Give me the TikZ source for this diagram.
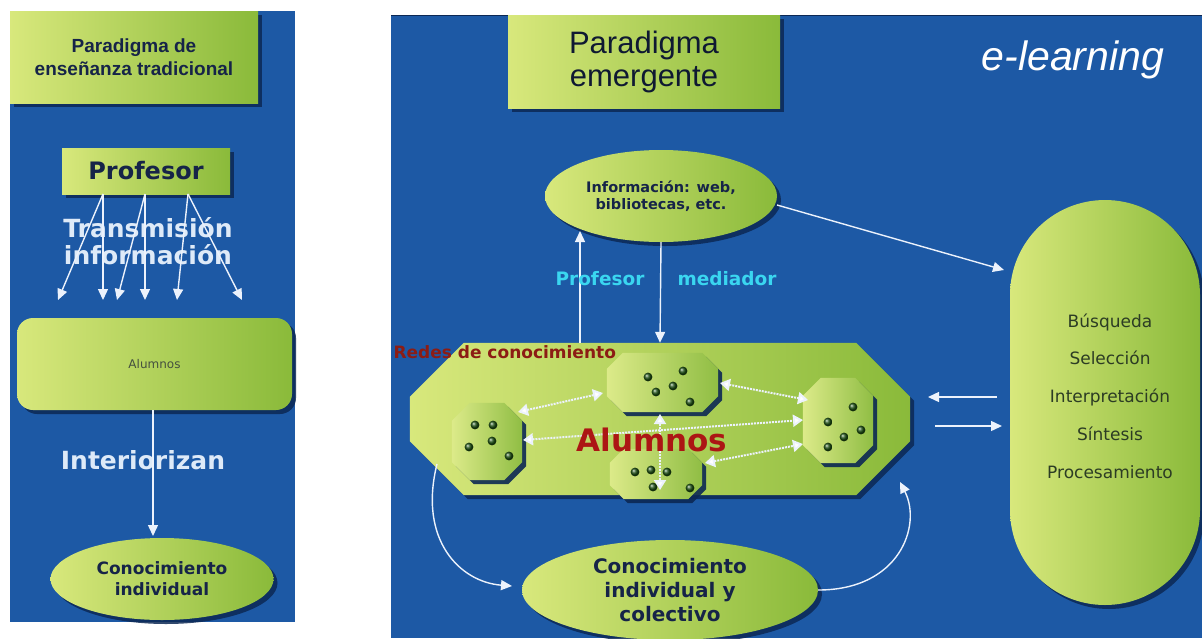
\documentclass[tikz,border=0pt]{standalone}
\usepackage{fontspec}
\setmainfont{DejaVu Sans}
\newfontfamily\arialf{Liberation Sans}
\usetikzlibrary{arrows.meta,shadows,shapes.geometric}

\definecolor{bgblue}{RGB}{29,89,165}
\definecolor{gL}{RGB}{216,232,124}
\definecolor{gD}{RGB}{138,186,58}
\definecolor{gS}{RGB}{12,40,84}
\definecolor{navy}{RGB}{22,36,72}
\definecolor{lightw}{RGB}{222,234,248}
\definecolor{arrw}{RGB}{236,242,252}
\definecolor{cyanl}{RGB}{58,214,240}
\definecolor{darkred}{RGB}{172,22,20}
\definecolor{redes}{RGB}{140,28,20}
\definecolor{dotg}{RGB}{30,80,20}
\definecolor{capt}{RGB}{44,60,36}

\newcommand\fsz[2]{\fontsize{#1}{#2}\selectfont}

% chamfered (octagonal) panel around a named node
\newcommand\chamferbox[7]{%
  \node[inner sep=0pt, minimum width=#4, minimum height=#5] (#1) at (#2,#3) {};
  \path[#7] ([xshift=#6]#1.north west) -- ([xshift=-#6]#1.north east)
    -- ([yshift=-#6]#1.north east) -- ([yshift=#6]#1.south east)
    -- ([xshift=-#6]#1.south east) -- ([xshift=#6]#1.south west)
    -- ([yshift=#6]#1.south west) -- ([yshift=-#6]#1.north west) -- cycle;
}

\begin{document}
\begin{tikzpicture}[x=1pt,y=-1pt,
  gfill/.style={left color=gL, right color=gD},
  shad/.style={drop shadow={shadow xshift=4pt, shadow yshift=-4pt, fill=gS, opacity=0.85}},
  gbox/.style={gfill, shad, inner sep=0pt},
  warrow/.style={draw=arrw, line width=1.4pt, -{Triangle[width=10pt,length=11pt]}},
  darrow/.style={draw=arrw, densely dotted, line width=2pt,
    {Triangle[width=12pt,length=10pt,fill=white]}-{Triangle[width=12pt,length=10pt,fill=white]}},
  subfill/.style={left color=gL!90!white, right color=gD!95!white,
    drop shadow={shadow xshift=4pt, shadow yshift=-4pt, fill=gS, opacity=0.9}},
  dot/.style={ball color=dotg},
]
\useasboundingbox (0,0) rectangle (1202,638);
\fill[white] (0,0) rectangle (1202,638);

% ---------------- left panel: traditional paradigm ----------------
\fill[bgblue] (10,11) rectangle (295,622);

\node[gbox, minimum width=248pt, minimum height=92pt, align=center,
      font=\arialf\bfseries\fsz{19}{23}, text=navy] (tradtitle) at (134,57)
  {Paradigma de\\enseñanza tradicional};

\node[gbox, minimum width=168pt, minimum height=46pt,
      font=\bfseries\fsz{24}{26}, text=navy] (prof) at (146,171) {Profesor};

\node[font=\bfseries\fsz{25}{27}, text=lightw, align=center] (trans) at (148,241)
  {Transmisión\\información};

\node[gbox, rounded corners=16pt, minimum width=275pt, minimum height=92pt,
      font=\fsz{12}{14}, text=capt!70!gray] (alum) at (154.5,364) {Alumnos};

\coordinate (p1) at (103,194);
\coordinate (p2) at (145,194);
\coordinate (p3) at (188,194);
\coordinate (t1) at (58,300);
\coordinate (t2) at (103,300);
\coordinate (t3) at (117,300);
\coordinate (t4) at (145,300);
\coordinate (t5) at (177,300);
\coordinate (t6) at (242,300);
\foreach \s/\t in {p1/t1,p1/t2,p2/t3,p2/t4,p3/t5,p3/t6}
  \draw[warrow] (\s) -- (\t);

\node[font=\bfseries\fsz{25}{27}, text=lightw] (inter) at (143,460) {Interiorizan};

\node[ellipse, gbox, minimum width=223pt, minimum height=82pt, align=center,
      font=\bfseries\fsz{17}{21}, text=navy] (conind) at (162,579)
  {Conocimiento\\individual};

\coordinate (intS) at (153,410);
\coordinate (intE) at (153,536);
\draw[warrow] (intS) -- (intE);

% ---------------- right panel: emerging paradigm ----------------
\fill[bgblue] (391,15) rectangle (1202,638);
\draw[gS, line width=1pt] (391,15) -- (1202,15);

\node[gbox, minimum width=272pt, minimum height=93pt, align=center,
      font=\arialf\fsz{31}{33}, text=navy!70!black] (emer) at (644,61.5)
  {Paradigma\\emergente};

\node[font=\arialf\itshape\fsz{41}{43}, text=white] (elearn) at (1073,60) {e-learning};

\node[ellipse, gbox, minimum width=232pt, minimum height=92pt, align=center,
      font=\bfseries\fsz{14.5}{17}, text=navy] (info) at (661,196)
  {Información: web,\\bibliotecas, etc.};

% capsule with the information tasks
\node[gbox, rounded corners=95pt, minimum width=190pt, minimum height=405pt] (tasks) at (1105,402.5) {};
\node[font=\fsz{17}{37.7}, text=capt, align=center] (tasklist) at (1110,396)
  {Búsqueda\\Selección\\Interpretación\\Síntesis\\Procesamiento};

% knowledge network
\chamferbox{net}{660}{419}{500pt}{152pt}{54pt}{gfill, shad}
\node[font=\bfseries\fsz{17}{19}, text=redes, anchor=west] (redes) at (390,352) {Redes de conocimiento};

\chamferbox{gL1}{487}{441.5}{70pt}{77pt}{18pt}{subfill}
\chamferbox{gT}{662.5}{382.5}{111pt}{59pt}{16pt}{subfill}
\chamferbox{gR}{838}{420.5}{70pt}{85pt}{18pt}{subfill}
\chamferbox{gB}{656}{474}{92pt}{50pt}{14pt}{subfill}

% members of each group
\foreach \x/\y in {475/425,493/425,492/441,469/447,509/456,
                   648/377,683/371,673/386,656/392,690/402,
                   853/407,828/422,861/430,844/437,828/447,
                   635/472,651/470,667/472,653/487,690/488}
  \shade[dot] (\x,\y) circle (4.4pt);

% links between groups
\coordinate (a1) at (518,412);  \coordinate (b1) at (603,393);
\coordinate (a2) at (523,440);  \coordinate (b2) at (803,420);
\coordinate (a3) at (720,383);  \coordinate (b3) at (808,400);
\coordinate (a4) at (705,463);  \coordinate (b4) at (803,444);
\coordinate (a5) at (660,414);  \coordinate (b5) at (660,490);
\foreach \s/\t in {a1/b1,a2/b2,a3/b3,a4/b4,a5/b5}
  \draw[darrow] (\s) -- (\t);

\node[font=\bfseries\fsz{31}{33}, text=darkred] (alumnos) at (652,440) {Alumnos};

% teacher as mediator
\coordinate (upS) at (580,343);
\coordinate (upE) at (580,231);
\draw[warrow] (upS) -- (upE);
\draw[warrow] (info.south) -- (net.north);
\node[font=\bfseries\fsz{18.5}{20}, text=cyanl] (lprof) at (600,279) {Profesor};
\node[font=\bfseries\fsz{18.5}{20}, text=cyanl] (lmed) at (727,279) {mediador};

% information towards the tasks
\coordinate (infoR) at (777,205);
\coordinate (tasksL) at (1004,270);
\draw[warrow] (infoR) -- (tasksL);

% exchange between network and tasks
\coordinate (x1) at (997,397); \coordinate (y1) at (928,397);
\coordinate (x2) at (935,426); \coordinate (y2) at (1002,426);
\draw[warrow] (x1) -- (y1);
\draw[warrow] (x2) -- (y2);

% collective knowledge cycle
\node[ellipse, gbox, minimum width=296pt, minimum height=100pt, align=center,
      font=\bfseries\fsz{20}{24}, text=navy] (concol) at (670,590)
  {Conocimiento\\individual y\\colectivo};

\coordinate (cycS) at (437,464);
\coordinate (cycE) at (512,586);
\coordinate (cycR) at (900,482);
\draw[warrow] (cycS) .. controls (418,540) and (460,582) .. (cycE);
\draw[warrow] (concol.east) .. controls (900,590) and (922,525) .. (cycR);
\end{tikzpicture}
\end{document}
